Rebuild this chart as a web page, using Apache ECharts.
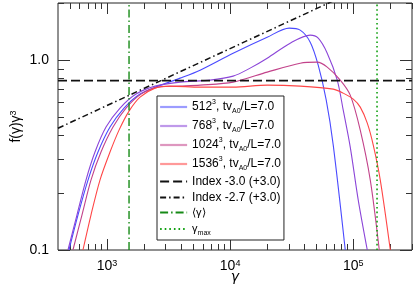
<!DOCTYPE html>
<html><head><meta charset="utf-8">
<script src="https://cdn.jsdelivr.net/npm/echarts@6/dist/echarts.min.js"></script>
<style>html,body{margin:0;padding:0;background:#fff}#c{width:415px;height:288px}</style>
</head><body><div id="c"></div>
<script>
// ---- data ----
const gamma512 = [491, 581, 701, 845, 1058, 1375, 1855, 2598, 3923, 5703, 10580, 20000, 30180, 37080, 44720, 51930, 60340, 68780, 86100];
const f512     = [0.1, 0.1528, 0.2336, 0.328, 0.444, 0.5589, 0.6626, 0.7297, 0.804, 0.886, 1.088, 1.321, 1.474, 1.439, 1.244, 0.9412, 0.616, 0.357, 0.1];
const gamma768 = [482, 570, 675, 799, 982, 1276, 1721, 2456, 3923, 6878, 10580, 14540, 20000, 30740, 44720, 51930, 61470, 74130, 82910, 94540, 109800, 130000];
const f768     = [0.1, 0.1528, 0.2336, 0.328, 0.444, 0.5589, 0.6626, 0.7297, 0.766, 0.785, 0.8236, 0.9077, 1.024, 1.229, 1.354, 1.305, 1.088, 0.785, 0.5455, 0.3484, 0.1833, 0.1];
const gamma1024 = [529, 626, 741, 894, 1119, 1427, 1890, 2598, 3923, 5703, 10580, 20000, 37080, 50960, 61470, 78410, 94540, 114000, 137500, 162700];
const f1024     = [0.1, 0.1528, 0.2336, 0.328, 0.444, 0.5589, 0.6626, 0.7209, 0.7297, 0.7386, 0.766, 0.865, 0.964, 0.9761, 0.919, 0.785, 0.6542, 0.428, 0.2336, 0.1];
const gamma1536 = [638, 741, 877, 1058, 1252, 1510, 1855, 2456, 3253, 5703, 10580, 20000, 37080, 68780, 82910, 100000, 114000, 130000, 145400, 165800, 200000];
const f1536     = [0.1, 0.1528, 0.2336, 0.328, 0.428, 0.5391, 0.6387, 0.7122, 0.7297, 0.7209, 0.7209, 0.7386, 0.7297, 0.7035, 0.6704, 0.6235, 0.5657, 0.466, 0.357, 0.2336, 0.1];
const index30Gamma = [400, 300000];
const index30Value = [0.78, 0.78];
const index27Gamma = [400, 100000];
const index27Value = [0.438, 2.296];
const gammaMean = 1510;
const gammaMax = 156000;
const yRange = [0.1, 2.0];
const xRange = [400, 300000];
const xMajorTicks = [1000, 10000, 100000];
const xMinorTicks = [500, 600, 700, 800, 900, 2000, 3000, 4000, 5000, 6000, 7000, 8000, 9000,
  20000, 30000, 40000, 50000, 60000, 70000, 80000, 90000, 200000, 300000];
const yMajorTicks = [0.1, 1.0];
const yMinorTicks = [0.2, 0.3, 0.4, 0.5, 0.6, 0.7, 0.8, 0.9, 2.0];
const xTickExponents = ['3', '4', '5'];
const yTickLabels = ['0.1', '1.0'];
const seriesNames = ['512', '768', '1024', '1536', 'idx30', 'idx27', 'mean', 'max'];

const FONT = "'Liberation Sans', Arial, Helvetica, sans-serif";
const zip = (a, b) => a.map((v, i) => [v, b[i]]);

const legendLabels = {
  '512': '512{sup|3}, tv{sub|A0}/L=7.0',
  '768': '768{sup|3}, tv{sub|A0}/L=7.0',
  '1024': '1024{sup|3}, tv{sub|A0}/L=7.0',
  '1536': '1536{sup|3}, tv{sub|A0}/L=7.0',
  'idx30': 'Index -3.0 (+3.0)',
  'idx27': 'Index -2.7 (+3.0)',
  'mean': '{sm|⟨γ⟩}',
  'max': '{sm|γ}{sub|max}'
};

function mkAxis(dim, pos, ticks, len, extra) {
  const range = dim === 'x' ? xRange : yRange;
  return Object.assign({
    type: 'log', logBase: 10, min: range[0], max: range[1], position: pos,
    gridIndex: 0,
    axisLine: { show: false },
    splitLine: { show: false },
    minorTick: { show: false },
    axisTick: { show: true, inside: true, length: len, customValues: ticks,
      lineStyle: { color: '#333', width: 1 } },
    axisLabel: { show: false }
  }, extra || {});
}

const chart = echarts.init(document.getElementById('c'), null, { renderer: 'canvas' });
const colors = ['#4a4aff', '#8b45d8', '#c2428a', '#ff4646'];

const lineSeries = (name, data, color, width, type, extra) => Object.assign({
  name, type: 'line', data, xAxisIndex: 0, yAxisIndex: 0,
  showSymbol: false, symbol: 'none', clip: true,
  lineStyle: { color, width, type },
  itemStyle: { color },
  emphasis: { disabled: true }, animation: false
}, extra || {});

const curve = { smooth: 0.3 };

chart.setOption({
  animation: false,
  textStyle: { fontFamily: FONT },
  grid: { left: 58, top: 3, right: 3, bottom: 38, outerBoundsMode: 'none', containLabel: false,
    show: true, borderColor: '#222', borderWidth: 1, backgroundColor: 'transparent' },
  xAxis: [
    mkAxis('x', 'bottom', xMajorTicks, 11, {
      axisLabel: { show: true, customValues: xMajorTicks, margin: 9, color: '#000', fontFamily: FONT, fontSize: 14,
        formatter: v => { const i = xMajorTicks.findIndex(t => Math.abs(Math.log10(t / v)) < 0.01); return '10{sup|' + xTickExponents[i] + '}'; },
        rich: { sup: { fontSize: 9, verticalAlign: 'top', lineHeight: 14, fontFamily: FONT, color: '#000' } } },
      name: 'γ', nameLocation: 'middle', nameGap: 20, nameMoveOverlap: false,
      nameTextStyle: { fontSize: 14, fontStyle: 'italic', color: '#000', fontFamily: "'DejaVu Sans', sans-serif" }
    }),
    mkAxis('x', 'top', xMajorTicks, 11),
    mkAxis('x', 'bottom', xMinorTicks, 6),
    mkAxis('x', 'top', xMinorTicks, 6)
  ],
  yAxis: [
    mkAxis('y', 'left', yMajorTicks, 12, {
      axisLabel: { show: true, customValues: yMajorTicks, margin: 9, color: '#000', fontFamily: FONT, fontSize: 14,
        formatter: v => yTickLabels[v < 0.3 ? 0 : 1] },
      name: 'f(γ)γ{sup|3}', nameLocation: 'middle', nameGap: 35, nameRotate: 90, nameMoveOverlap: false,
      nameTextStyle: { fontSize: 14, color: '#000', fontFamily: FONT,
        rich: { sup: { fontSize: 9, verticalAlign: 'top', lineHeight: 14, fontFamily: FONT, color: '#000' } } }
    }),
    mkAxis('y', 'right', yMajorTicks, 12),
    mkAxis('y', 'left', yMinorTicks, 6),
    mkAxis('y', 'right', yMinorTicks, 6)
  ],
  legend: {
    left: 157, top: 96, orient: 'vertical',
    backgroundColor: '#fff', borderColor: '#222', borderWidth: 1,
    padding: [3, 3, 3, 2], itemGap: 3, itemWidth: 27, itemHeight: 8,
    selectedMode: false,
    itemStyle: { opacity: 0, borderWidth: 0 },
    data: seriesNames.map((n, i) => i < 4
      ? { name: n, lineStyle: { color: colors[i], width: 2.2, opacity: 0.55 } }
      : { name: n }),
    formatter: n => legendLabels[n],
    textStyle: {
      fontFamily: FONT, fontSize: 12, color: '#000', lineHeight: 13,
      rich: {
        sup: { fontSize: 7, verticalAlign: 'top', lineHeight: 16, fontFamily: FONT, color: '#000' },
        sub: { fontSize: 7, verticalAlign: 'bottom', lineHeight: 16, fontFamily: FONT, color: '#000' },
        sm: { fontSize: 11, fontFamily: FONT, color: '#000', lineHeight: 11 }
      }
    }
  },
  series: [
    lineSeries('512', zip(gamma512, f512), colors[0], 1.1, 'solid', curve),
    lineSeries('768', zip(gamma768, f768), colors[1], 1.1, 'solid', curve),
    lineSeries('1024', zip(gamma1024, f1024), colors[2], 1.1, 'solid', curve),
    lineSeries('1536', zip(gamma1536, f1536), colors[3], 1.1, 'solid', curve),
    lineSeries('idx30', zip(index30Gamma, index30Value), '#111', 1.8, [9, 4]),
    lineSeries('idx27', zip(index27Gamma, index27Value), '#111', 1.5, [6, 3, 1.5, 3]),
    lineSeries('mean', [[gammaMean, yRange[0]], [gammaMean, yRange[1]]], '#168a16', 1.4, [8, 3, 1.5, 3]),
    lineSeries('max', [[gammaMax, yRange[0]], [gammaMax, yRange[1]]], '#10a010', 1.6, [1.6, 3])
  ]
});
</script></body></html>
